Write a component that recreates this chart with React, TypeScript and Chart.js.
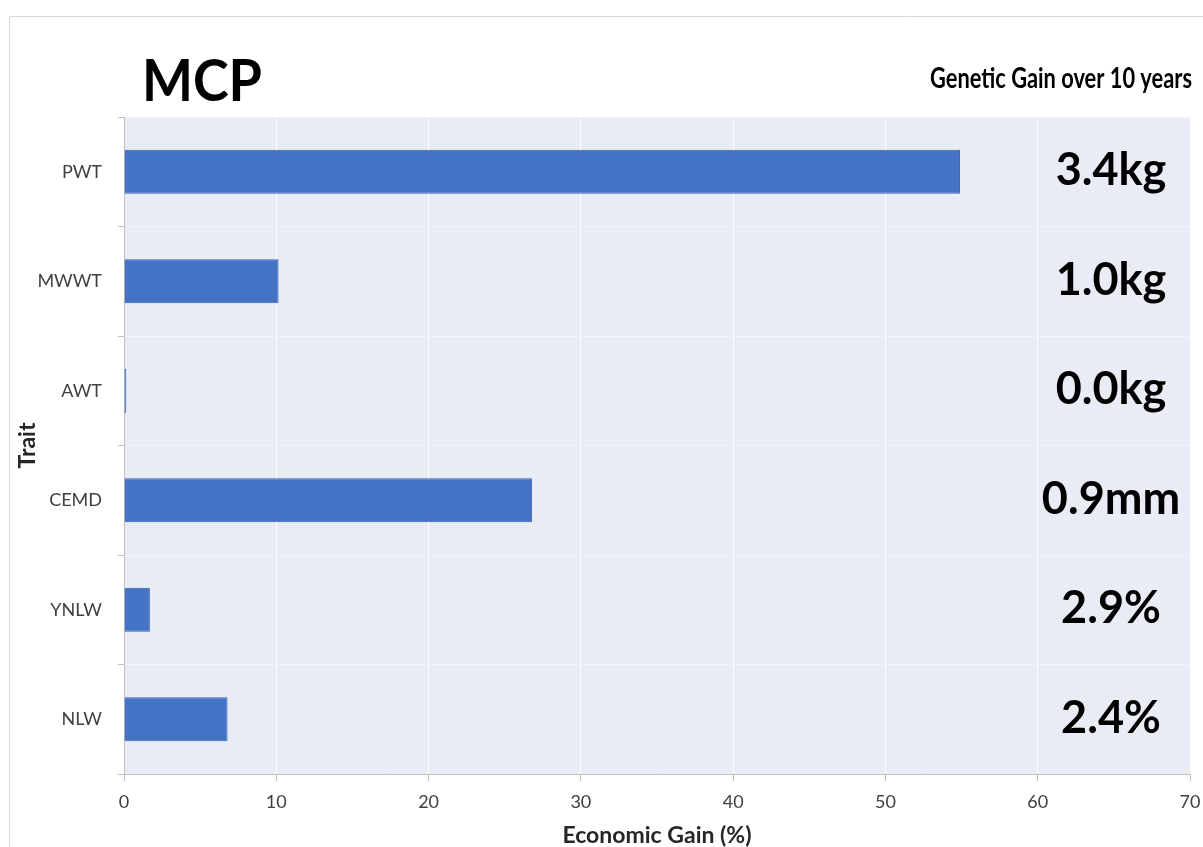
import React, { useEffect, useRef } from "react";
import { Chart, registerables } from "chart.js";

Chart.register(...registerables);

const traits = ["PWT", "MWWT", "AWT", "CEMD", "YNLW", "NLW"];
const economicGain = [54.9, 10.15, 0.15, 26.8, 1.7, 6.8];
const gainLabels = ["3.4kg", "1.0kg", "0.0kg", "0.9mm", "2.9%", "2.4%"];
const xTicks = [0, 10, 20, 30, 40, 50, 60, 70];
const chartTitle = "MCP";
const subTitle = "Genetic Gain over 10 years";
const xTitle = "Economic Gain (%)";
const yTitle = "Trait";

const FONT = "Lato, 'Open Sans', sans-serif";

function fitText(ctx: CanvasRenderingContext2D, text: string, x: number, y: number, w: number) {
  const m = ctx.measureText(text).width;
  ctx.save();
  ctx.translate(x, y);
  ctx.scale(w / m, 1);
  ctx.textAlign = "left";
  ctx.fillText(text, 0, 0);
  ctx.restore();
}

const decorPlugin = {
  id: "decor",
  beforeDraw(chart: any) {
    const { ctx, chartArea } = chart;
    ctx.save();
    ctx.fillStyle = "#ffffff";
    ctx.fillRect(0, 0, chart.width, chart.height);
    ctx.strokeStyle = "#d9d9d9";
    ctx.lineWidth = 1;
    ctx.beginPath();
    ctx.moveTo(9.5, chart.height);
    ctx.lineTo(9.5, 16.5);
    ctx.lineTo(chart.width, 16.5);
    ctx.stroke();
    ctx.fillStyle = "#e9ebf5";
    ctx.fillRect(chartArea.left, chartArea.top, chartArea.right - chartArea.left, chartArea.bottom - chartArea.top);
    ctx.restore();
  },
  afterDraw(chart: any) {
    const { ctx } = chart;
    const y = chart.scales.y;
    ctx.save();
    ctx.fillStyle = "#000000";
    ctx.textBaseline = "alphabetic";
    ctx.font = `bold 57px ${FONT}`;
    fitText(ctx, chartTitle, 142, 101, 120);
    ctx.font = `bold 29px ${FONT}`;
    fitText(ctx, subTitle, 930, 88, 262);
    ctx.font = `bold 45px ${FONT}`;
    ctx.textAlign = "center";
    ctx.textBaseline = "middle";
    gainLabels.forEach((lab, i) => {
      ctx.fillText(lab, 1111, y.getPixelForValue(i) - 1);
    });
    ctx.restore();
  },
};

export default function App() {
  const ref = useRef<HTMLCanvasElement>(null);
  useEffect(() => {
    document.body.style.margin = "0";
    const chart = new Chart(ref.current!, {
      type: "bar",
      data: {
        labels: traits,
        datasets: [
          {
            data: economicGain,
            backgroundColor: "#4472c4",
            borderColor: "#3a64b0",
            borderWidth: 1,
            barPercentage: 0.4,
            categoryPercentage: 1,
          },
        ],
      },
      options: {
        indexAxis: "y",
        responsive: false,
        animation: false,
        devicePixelRatio: 1,
        layout: { padding: { left: 0, top: 117, right: 13, bottom: 0 } },
        plugins: { legend: { display: false }, tooltip: { enabled: false } },
        scales: {
          x: {
            min: 0,
            max: 70,
            afterFit: (s: any) => {
              s.height = 73;
              s.paddingLeft = 0;
              s.paddingRight = 0;
            },
            afterBuildTicks: (s: any) => {
              s.ticks = xTicks.map((v) => ({ value: v }));
            },
            grid: {
              color: "#ffffff",
              lineWidth: 1,
              tickColor: "#bfbfbf",
              tickLength: 7,
              drawOnChartArea: true,
            },
            border: { color: "#bfbfbf", width: 1 },
            ticks: {
              color: "#404040",
              font: { family: FONT, size: 18 },
              padding: 10,
              maxRotation: 0,
            },
            title: {
              display: true,
              text: xTitle,
              color: "#262626",
              font: { family: FONT, size: 23, weight: "bold", lineHeight: 1 },
              padding: { top: 0, bottom: 0 },
            },
          },
          y: {
            afterFit: (s: any) => {
              s.width = 124;
              s.paddingTop = 0;
              s.paddingBottom = 0;
            },
            grid: {
              offset: true,
              color: "#f3f4fa",
              lineWidth: 1,
              tickColor: "#bfbfbf",
              tickLength: 6,
            },
            border: { color: "#bfbfbf", width: 1 },
            ticks: {
              color: "#404040",
              font: { family: FONT, size: 18 },
              padding: 16,
            },
            title: {
              display: true,
              text: yTitle,
              color: "#262626",
              font: { family: FONT, size: 23, weight: "bold", lineHeight: 1 },
              padding: { top: 16, bottom: 0 },
            },
          },
        },
      },
      plugins: [decorPlugin],
    } as any);
    return () => chart.destroy();
  }, []);
  return (
    <div style={{ width: 1203, height: 847 }}>
      <canvas ref={ref} width={1203} height={847} style={{ display: "block" }} />
    </div>
  );
}
